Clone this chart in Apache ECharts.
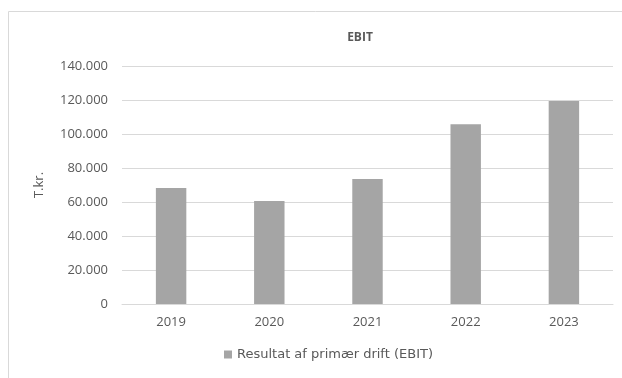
<!DOCTYPE html>
<html lang="da">
<head>
    <meta charset="UTF-8">
    <title>EBIT</title>
    <style>
        html, body { margin: 0; padding: 0; background: #fff; }
        #chart { width: 622px; height: 378px; }
    </style>
</head>
<body>
    <div id="chart"></div>
    <script src="https://cdn.jsdelivr.net/npm/echarts@6/dist/echarts.min.js"></script>
    <script>
        var years = ['2019', '2020', '2021', '2022', '2023'];
        var ebit = [68300, 60600, 73600, 105700, 119400];
        var seriesName = 'Resultat af primær drift (EBIT)';

        // dansk tusindtalsseparator
        function fmt(v) {
            return String(v).replace(/\B(?=(\d{3})+(?!\d))/g, '.');
        }

        var chart = echarts.init(document.getElementById('chart'));
        var font = 'Open Sans, sans-serif';
        var option = {
            animation: false,
            graphic: [{
                type: 'rect',
                shape: { x: 8.5, y: 11.5, width: 700, height: 420 },
                style: { fill: 'none', stroke: '#d9d9d9', lineWidth: 1 }
            }],
            title: {
                text: 'EBIT',
                left: 355,
                top: 27,
                textAlign: 'center',
                textStyle: { fontFamily: font, fontSize: 12, fontWeight: 'bold', color: '#595959' }
            },
            grid: { left: 122, right: 9, top: 66, bottom: 74 },
            xAxis: {
                type: 'category',
                data: years,
                axisLine: { lineStyle: { color: '#d9d9d9' } },
                axisTick: { show: false },
                axisLabel: { fontFamily: font, fontSize: 13, color: '#595959', margin: 12 }
            },
            yAxis: {
                type: 'value',
                min: 0,
                max: 140000,
                interval: 20000,
                name: 'T.kr.',
                nameLocation: 'middle',
                nameGap: 76,
                nameTextStyle: { fontFamily: font, fontSize: 13, color: '#595959' },
                axisLabel: {
                    fontFamily: font, fontSize: 13, color: '#595959', margin: 14,
                    formatter: fmt
                },
                splitLine: { lineStyle: { color: '#d9d9d9' } }
            },
            legend: {
                bottom: 12,
                left: 219,
                itemWidth: 8,
                itemHeight: 8,
                itemGap: 4,
                icon: 'rect',
                textStyle: { fontFamily: 'DejaVu Sans, sans-serif', fontSize: 13, color: '#595959' },
                data: [seriesName]
            },
            series: [{
                name: seriesName,
                type: 'bar',
                data: ebit,
                barWidth: '31%',
                itemStyle: { color: '#a5a5a5' }
            }]
        };
        chart.setOption(option);
    </script>
</body>
</html>
